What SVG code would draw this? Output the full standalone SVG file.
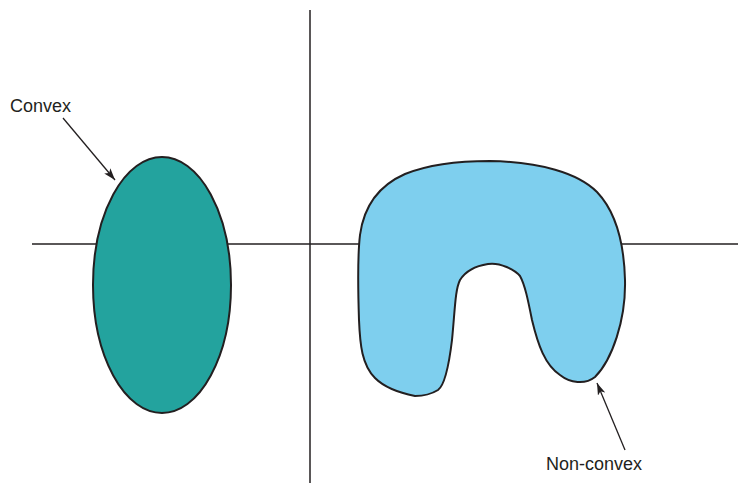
<svg xmlns="http://www.w3.org/2000/svg" width="738" height="483" viewBox="0 0 738 483">
<style>
.axis{stroke:#231f20;stroke-width:1.5;fill:none}
.shape{stroke:#231f20;stroke-width:2}
.lbl{font-family:"Liberation Sans",Arial,sans-serif;font-size:18px;fill:#231f20}
.lead{stroke:#231f20;stroke-width:1.3;fill:none}
</style>
<defs>
<marker id="ah" viewBox="0 0 12 8" refX="12" refY="4" markerWidth="12" markerHeight="8" markerUnits="userSpaceOnUse" orient="auto">
<path d="M0,0 L12,4 L0,8 L3,4 Z" fill="#231f20"/>
</marker>
</defs>
<g id="axes">
<line class="axis" x1="32" y1="244" x2="738" y2="244"/>
<line class="axis" x1="310" y1="10" x2="310" y2="483"/>
</g>
<g id="convex">
<ellipse class="shape" cx="162" cy="285" rx="69" ry="128" fill="#23a39e"/>
</g>
<g id="nonconvex">
<path class="shape" fill="#7ecfee" d="M490,161 C540,162 578,173 597,192 C615,211 624,240 625,280 C626,320 612,360 595,377 C585,385 570,383 560,375 C545,365 538,345 532,320 C528,300 525,285 520,276 C515,270 500,262 488,264 C475,266 465,272 460,280 C455,290 455,310 452,340 C449,365 445,385 438,390 C430,395 420,396 415,396 C400,393 385,388 375,378 C362,365 360,345 359,320 C358,290 357,260 360,235 C364,205 380,185 405,174 C430,164 460,161 490,161 Z"/>
</g>
<g id="connectors">
<line class="lead" x1="63" y1="118" x2="115" y2="180" marker-end="url(#ah)"/>
<line class="lead" x1="625" y1="450" x2="597" y2="383" marker-end="url(#ah)"/>
</g>
<g id="labels">
<text class="lbl" x="10" y="112">Convex</text>
<text class="lbl" x="546" y="470">Non-convex</text>
</g>
</svg>
